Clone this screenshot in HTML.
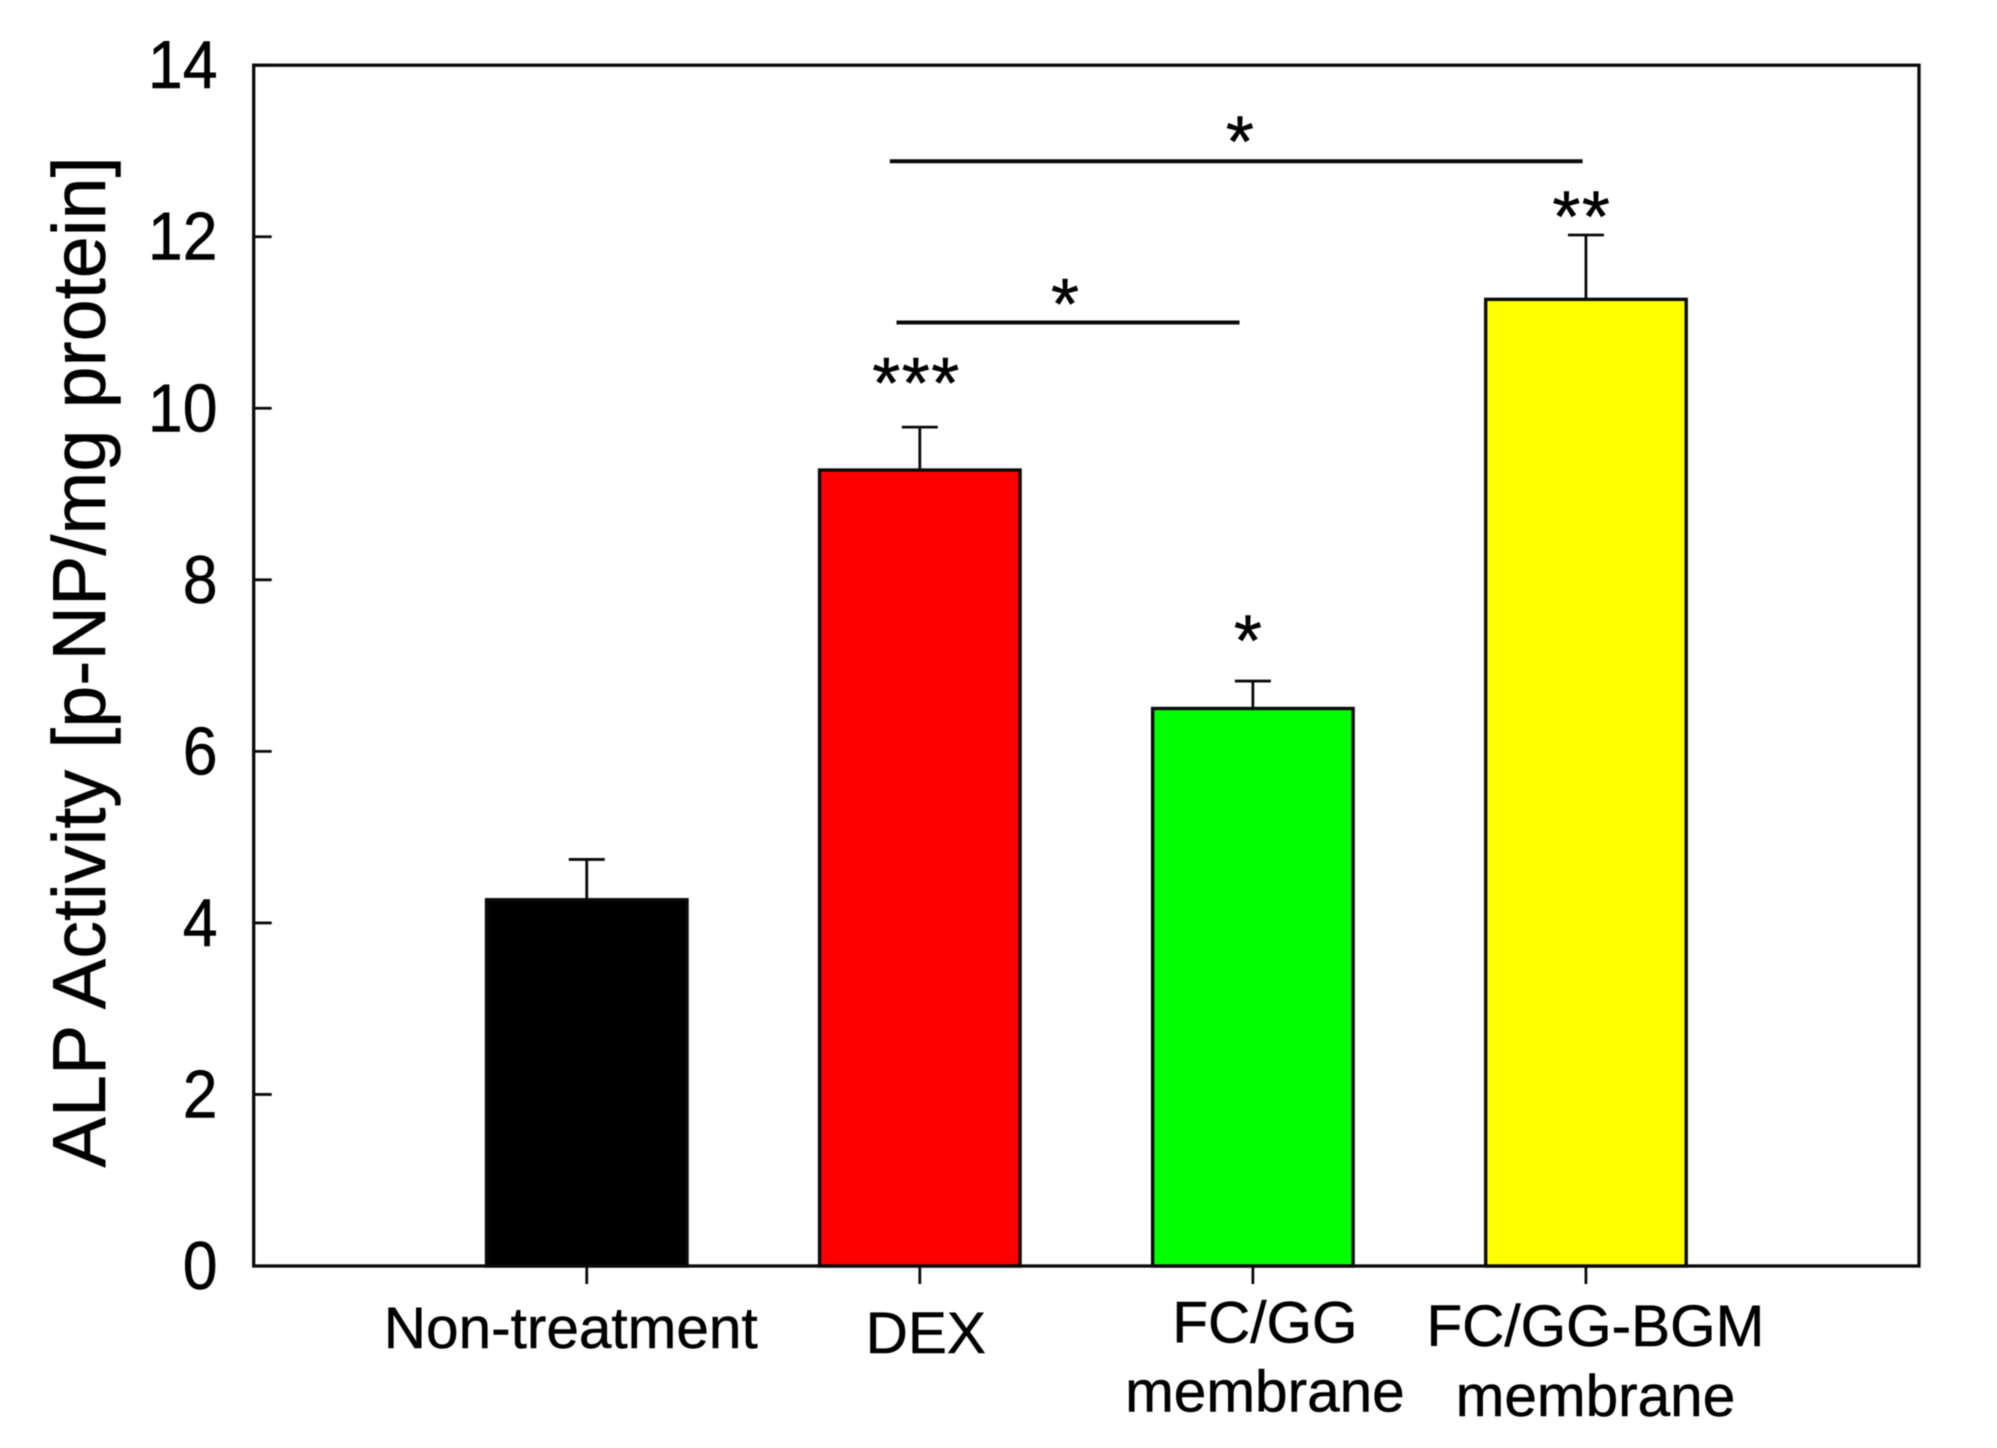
<!DOCTYPE html>
<html lang="en">
<head>
<meta charset="utf-8">
<title>ALP Activity Bar Chart</title>
<style>
  html, body { margin: 0; padding: 0; background: #fff; }
  body { width: 1997px; height: 1448px; overflow: hidden; }
  svg { display: block; filter: blur(0.5px); }
  text { font-family: "Liberation Sans", Arial, sans-serif; fill: #000; stroke: #000; stroke-width: 0.5px; }
</style>
</head>
<body>
<svg id="chart" xmlns="http://www.w3.org/2000/svg" width="1997" height="1448" viewBox="0 0 1997 1448"></svg>
<script>
// ---- chart data ----
const categories = ["Non-treatment", "DEX", "FC/GG membrane", "FC/GG-BGM membrane"];
const categoryLines = [["Non-treatment"], ["DEX"], ["FC/GG", "membrane"], ["FC/GG-BGM", "membrane"]];
const barValues = [4.27, 9.28, 6.5, 11.27];
const errorValues = [0.47, 0.50, 0.32, 0.75];
const barColors = ["#000000", "#ff0000", "#00ff00", "#ffff00"];
const yTickValues = [0, 2, 4, 6, 8, 10, 12, 14];
const bracketFrom = [1.91, 1.93];
const bracketTo = [3.99, 2.96];
const bracketLevel = [12.88, 11.0];
const starLabels = ["*", "*", "***", "*", "**"];
const starCategory = [2.961, 2.436, 1.99, 2.985, 3.988];
const starLevel = [13.225, 11.33, 10.41, 7.41, 12.35];
const yTitleText = "ALP Activity [p-NP/mg protein]";

// ---- axis functions ----
const plotLeft = 253.7, plotRight = 1919, plotTop = 65.2, plotBottom = 1266;
const xMin = 0, xMax = 5, yMin = 0, yMax = 14;
const barWidthUnits = 0.602;
function xScale(v) { return plotLeft + (v - xMin) / (xMax - xMin) * (plotRight - plotLeft); }
function yScale(v) { return plotBottom - (v - yMin) / (yMax - yMin) * (plotBottom - plotTop); }

const svg = document.getElementById('chart');
const NS = 'http://www.w3.org/2000/svg';
function make(tag, attrs, parent) {
  const el = document.createElementNS(NS, tag);
  for (const k in attrs) el.setAttribute(k, attrs[k]);
  (parent || svg).appendChild(el);
  return el;
}
const INK = '#0a0a0a';

// plot frame
const frame = make('rect', { x: plotLeft, y: plotTop, width: plotRight - plotLeft, height: plotBottom - plotTop, fill: '#fff', stroke: INK, 'stroke-width': 3.3 });



// y axis ticks + labels
yTickValues.forEach(function (v) {
  const tick = make('line', { x1: plotLeft, x2: plotLeft + 18, y1: yScale(v), y2: yScale(v), stroke: INK, 'stroke-width': 2.8 });
  
  
  const label = make('text', { transform: 'translate(217.5 ' + (yScale(v) + 23) + ') scale(0.92 1)', 'text-anchor': 'end', 'font-size': 68 });
  label.textContent = String(v);
  
  
});

// y axis title
const yTitle = make('text', { transform: 'translate(105 662) rotate(-90)', 'text-anchor': 'middle', 'font-size': 75.6 });
yTitle.textContent = yTitleText;



// x ticks and category labels
const labelShift = [-16, 6, 12, 9.5];
const labelBaseline = [[1348], [1353], [1342.5, 1411.5], [1346, 1416]];
categories.forEach(function (name, i) {
  const cx = xScale(i + 1);
  const tick = make('line', { x1: cx, x2: cx, y1: plotBottom, y2: 1284, stroke: INK, 'stroke-width': 2.8 });
  
  
  categoryLines[i].forEach(function (line, j) {
    const label = make('text', { x: cx + labelShift[i], y: labelBaseline[i][j], 'text-anchor': 'middle', 'font-size': 58.5 });
    label.textContent = line;
    
    
  });
});

// error bars + bars
barValues.forEach(function (v, i) {
  const cx = xScale(i + 1);
  const halfW = (xScale(barWidthUnits) - xScale(0)) / 2;
  const top = yScale(v + errorValues[i]);
  const stem = make('line', { x1: cx, x2: cx, y1: yScale(v), y2: top, stroke: INK, 'stroke-width': 2.8 });
  
  
  const cap = make('line', { x1: cx - 18, x2: cx + 18, y1: top, y2: top, stroke: INK, 'stroke-width': 2.8 });
  
  
  const bar = make('rect', { x: cx - halfW, y: yScale(v), width: halfW * 2, height: yScale(0) - yScale(v), fill: barColors[i], stroke: INK, 'stroke-width': 3.4 });
  
  
});

// significance brackets
bracketLevel.forEach(function (level, i) {
  const line = make('line', { x1: xScale(bracketFrom[i]), x2: xScale(bracketTo[i]), y1: yScale(level), y2: yScale(level), stroke: INK, 'stroke-width': 4 });
  
  
});

// significance stars
starLabels.forEach(function (s, i) {
  const star = make('text', { x: xScale(starCategory[i]), y: yScale(starLevel[i]) + 35, 'text-anchor': 'middle', 'font-size': 72, 'letter-spacing': s.length > 1 ? 1.5 : 0 });
  star.textContent = s;
  
  
});
</script>
</body>
</html>
